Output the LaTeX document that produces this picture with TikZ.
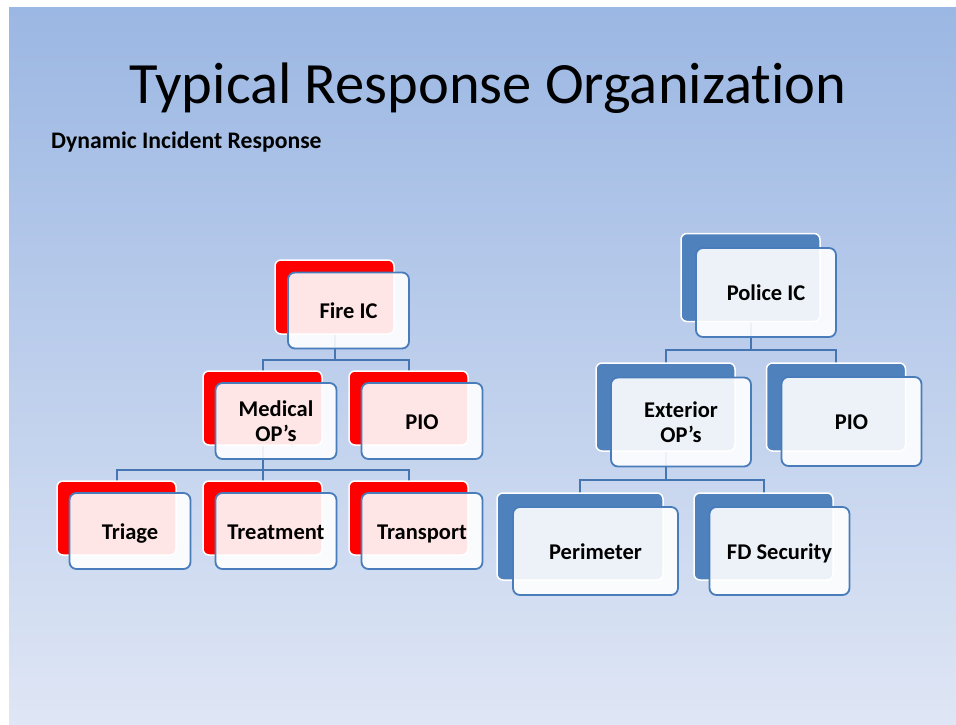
\documentclass[tikz,border=0pt]{standalone}
\usepackage{fontspec}
\setmainfont{Carlito}[Ligatures=CommonOff]
\usetikzlibrary{calc}
\definecolor{bgtop}{RGB}{155,183,227}
\definecolor{bgbot}{RGB}{223,230,245}
\definecolor{acc}{RGB}{79,129,189}
\definecolor{edgeblue}{RGB}{72,124,186}
\definecolor{conncol}{RGB}{70,118,178}
\pgfdeclarelayer{base}
\pgfdeclarelayer{bg}
\pgfsetlayers{base,bg,main}
\newcommand{\boxline}[1]{\rule[-4.5pt]{0pt}{25pt}#1}
\begin{document}
\begin{tikzpicture}[x=1pt,y=-1pt,
  backbox/.style={draw=white, line width=1.5pt, rounded corners=6pt, inner sep=0pt, outer sep=0pt},
  redback/.style={backbox, fill=red, minimum width=119pt, minimum height=74pt},
  blueback/.style={backbox, fill=acc, minimum width=139pt, minimum height=88pt},
  wideback/.style={backbox, fill=acc, minimum width=166pt, minimum height=87pt},
  frontbox/.style={draw=edgeblue, line width=1.8pt, fill=white, fill opacity=0.9, text opacity=1,
     rounded corners=7pt, inner sep=0pt, outer sep=0pt, align=center,
     font=\bfseries\fontsize{22.5}{25}\selectfont},
  firefront/.style={frontbox, minimum width=121pt, minimum height=76pt},
  polfront/.style={frontbox, minimum width=140pt, minimum height=89pt},
  widefront/.style={frontbox, minimum width=165pt, minimum height=88pt},
  conn/.style={draw=conncol, line width=2pt}
]
\useasboundingbox (0,0) rectangle (956,725);
\begin{pgfonlayer}{base}
\fill[white] (0,0) rectangle (956,725);
\shade[top color=bgtop, bottom color=bgbot] (9,8) rectangle (956,725);
\end{pgfonlayer}

\node[anchor=base, font=\fontsize{58.5}{60}\selectfont] (title) at (488,103) {Typical Response Organization};
\node[anchor=base west, inner sep=0pt, font=\bfseries\fontsize{23.7}{26}\selectfont] (sub) at (51,148) {Dynamic Incident Response};

% Fire side
\node[redback] (fireB) at (334.5,297) {};
\node[firefront] (fireF) at (348.5,310.5) {\boxline{Fire IC}};
\node[redback] (medB) at (262.5,408) {};
\node[firefront] (medF) at (276,421) {\boxline{Medical}\\\boxline{OP’s}};
\node[redback] (fpioB) at (408.5,408) {};
\node[firefront] (fpioF) at (422,421) {\boxline{PIO}};
\node[redback] (triB) at (116.5,518) {};
\node[firefront] (triF) at (130,531) {\boxline{Triage}};
\node[redback] (treB) at (262.5,518) {};
\node[firefront] (treF) at (276,531) {\boxline{Treatment}};
\node[redback] (traB) at (408.5,518) {};
\node[firefront] (traF) at (422,531) {\boxline{Transport}};

% Police side
\node[blueback] (polB) at (750.5,277.5) {};
\node[polfront] (polF) at (766,292.5) {\boxline{Police IC}};
\node[blueback] (extB) at (665.5,407) {};
\node[polfront] (extF) at (681,422) {\boxline{Exterior}\\\boxline{OP’s}};
\node[blueback] (ppioB) at (836,407) {};
\node[polfront] (ppioF) at (851.5,421.5) {\boxline{PIO}};
\node[wideback] (perB) at (580,536.5) {};
\node[widefront] (perF) at (595.5,551) {\boxline{Perimeter}};
\node[blueback, minimum height=87pt] (fdB) at (763.5,536.5) {};
\node[polfront, minimum height=88pt] (fdF) at (779.5,551) {\boxline{FD Security}};

\begin{pgfonlayer}{bg}
\coordinate (bus1) at ($(fireF.south)!.5!(medB.north)$);
\draw[conn] (fireB.center) -- (fireB.center |- bus1) -| (medB.north);
\draw[conn] (fireB.center |- bus1) -| (fpioB.north);
\coordinate (bus2) at ($(medF.south)!.5!(treB.north)$);
\draw[conn] (medB.center) -- (medB.center |- bus2) -| (triB.north);
\draw[conn] (medB.center |- bus2) -- (treB.north);
\draw[conn] (medB.center |- bus2) -| (traB.north);
\coordinate (bus3) at ($(polF.south)!.5!(extB.north)$);
\draw[conn] (polB.center) -- (polB.center |- bus3) -| (extB.north);
\draw[conn] (polB.center |- bus3) -| (ppioB.north);
\coordinate (bus4) at ($(extF.south)!.5!(perB.north)$);
\draw[conn] (extB.center) -- (extB.center |- bus4) -| (perB.north);
\draw[conn] (extB.center |- bus4) -| (fdB.north);
\end{pgfonlayer}
\end{tikzpicture}
\end{document}
